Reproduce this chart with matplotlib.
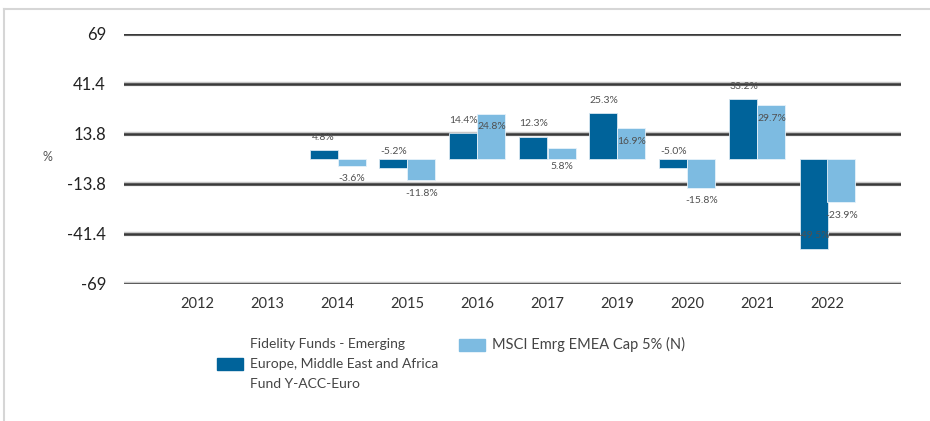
import matplotlib.pyplot as plt
import matplotlib.patches as mpatches
import numpy as np

years = ["2012", "2013", "2014", "2015", "2016", "2017", "2019", "2020", "2021", "2022"]
fund = [np.nan, np.nan, 4.8, -5.2, 14.4, 12.3, 25.3, -5.0, 33.2, -49.5]
index = [np.nan, np.nan, -3.6, -11.8, 24.8, 5.8, 16.9, -15.8, 29.7, -23.9]
y_ticks = [69, 41.4, 13.8, -13.8, -41.4, -69]
fund_name = "Fidelity Funds - Emerging\nEurope, Middle East and Africa\nFund Y-ACC-Euro"
index_name = "MSCI Emrg EMEA Cap 5% (N)"

# label placement per bar: "out" = beyond bar end, "in" = inside near bar end,
# "zero" = on the other side of zero line
fund_place = [None, None, "out", "zero", "out", "out", "out", "zero", "out", "in"]
index_place = [None, None, "out", "out", "in", "zero", "in", "out", "in", "out"]

FUND_C = "#00639a"
INDEX_C = "#7dbbe1"
TEXT_C = "#444444"

plt.rcParams["font.family"] = ["Lato", "DejaVu Sans"]

fig = plt.figure(figsize=(9.3, 4.21), dpi=100)
ax = fig.add_axes([124 / 930, 1 - 284 / 421, (901 - 124) / 930, 250 / 421])

# the chart's value axis is evenly spaced by tick index, 27.6 per step
def to_axis(v):
    return np.asarray(v, dtype=float) / 27.6

x = np.arange(len(years))
w = 0.4
ax.bar(x - w / 2, to_axis(fund), w, color=FUND_C, edgecolor="#d8e8f2", linewidth=0.6, zorder=3)
ax.bar(x + w / 2, to_axis(index), w, color=INDEX_C, edgecolor="#e6f2fa", linewidth=0.6, zorder=3)

tick_pos = [2.5, 1.5, 0.5, -0.5, -1.5, -2.5]
for tp in tick_pos:
    ax.axhline(tp, color="#c8c8c8", linewidth=3.2, zorder=1)
    ax.axhline(tp, color="#3a3a3a", linewidth=1.8, zorder=2)

def label(xc, v, place):
    if place is None or np.isnan(v):
        return
    yv = to_axis(v)
    sgn = 1 if v >= 0 else -1
    if place == "out":
        pos, off, va = yv, 6 * sgn, "bottom" if sgn > 0 else "top"
    elif place == "in":
        pos, off, va = yv, -6 * sgn, "top" if sgn > 0 else "bottom"
    else:
        pos, off, va = 0, -2 * sgn, "bottom" if sgn < 0 else "top"
    ax.annotate(f"{v:.1f}%", (xc, pos), xytext=(0, off), textcoords="offset points",
                ha="center", va=va, fontsize=7.5, color="#505050", zorder=5)

for i in range(len(years)):
    label(x[i] - w / 2, fund[i], fund_place[i])
    label(x[i] + w / 2, index[i], index_place[i])

ax.set_xlim(-1.05, 10.05)
ax.set_ylim(-2.5, 2.5)
ax.set_yticks(tick_pos)
ax.set_yticklabels([f"{t:g}" for t in y_ticks], fontsize=12, color="#222222")
ax.set_xticks(x)
ax.set_xticklabels(years, fontsize=10.5, color="#333333")
ax.tick_params(axis="y", length=0, pad=13)
ax.tick_params(axis="x", length=0, pad=9)
for s in ax.spines.values():
    s.set_visible(False)
ax.set_facecolor("none")

fig.text(47 / 930, 1 - 157 / 421, "%", fontsize=9, color="#555555", ha="center", va="center")

# outer frame lines
fig.add_artist(plt.Line2D([4 / 930, 4 / 930], [0, 1 - 9 / 421], color="#d6d6d6", linewidth=1.5))
fig.add_artist(plt.Line2D([4 / 930, 1], [1 - 9 / 421, 1 - 9 / 421], color="#d6d6d6", linewidth=1.5))

# legend
fig.add_artist(mpatches.Rectangle((217 / 930, 1 - 370 / 421), 26 / 930, 12 / 421,
                                  transform=fig.transFigure, color=FUND_C))
fig.text(250 / 930, 1 - 364 / 421, fund_name, fontsize=10, color=TEXT_C,
         ha="left", va="center", linespacing=1.75)
fig.add_artist(mpatches.Rectangle((459 / 930, 1 - 351 / 421), 26 / 930, 12 / 421,
                                  transform=fig.transFigure, color=INDEX_C))
fig.text(492 / 930, 1 - 344 / 421, index_name, fontsize=10.5, color=TEXT_C,
         ha="left", va="center")

fig.savefig("out.png", dpi=100)
